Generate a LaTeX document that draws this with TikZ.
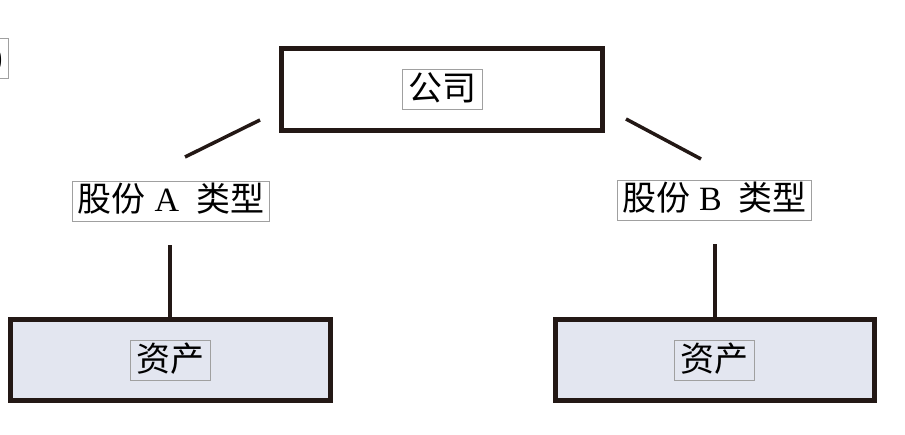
\documentclass[tikz,border=0pt]{standalone}
\usepackage{fontspec}
\usepackage{tikz}
\setmainfont{Liberation Serif}
\newfontfamily\cjk{Noto Sans CJK SC}
\definecolor{bxline}{HTML}{231815}
\definecolor{bxfill}{HTML}{E3E6F0}
\definecolor{tagline}{HTML}{A0A0A0}

\begin{document}
\begin{tikzpicture}[x=1pt, y=-1pt,
  box/.style={draw=bxline, line width=5pt, inner sep=0pt},
  tag/.style={draw=tagline, line width=0.8pt, inner xsep=6pt, inner ysep=3pt,
    text height=28pt, text depth=6pt, font=\fontsize{34}{34}\selectfont\cjk},
  link/.style={draw=bxline, line width=4pt}]
  \useasboundingbox (0,0) rectangle (905,435);
  % company on top
  \node[box, minimum width=321pt, minimum height=82pt] (co) at (442,89.5) {};
  \node[tag] (coLbl) at (co) {公司};
  \node[tag, anchor=east, font=\fontsize{34}{34}\selectfont\rmfamily] (mark) at (9,58) {(1)};
  % share types
  \node[tag, inner xsep=5pt] (typeA) at (171,201) {股份\hspace{9pt}{\rmfamily A}\hspace{17pt}类型};
  \node[tag, inner xsep=5pt] (typeB) at (714.5,200) {股份\hspace{9pt}{\rmfamily B}\hspace{17pt}类型};
  % assets
  \node[box, fill=bxfill, minimum width=320pt, minimum height=81.5pt] (assetA) at (170,360.25) {};
  \node[tag] (assetALbl) at (assetA) {资产};
  \node[box, fill=bxfill, minimum width=319pt, minimum height=81.5pt] (assetB) at (714.5,360.25) {};
  \node[tag] (assetBLbl) at (assetB) {资产};
  % links
  \coordinate (dl1) at (260,120);
  \coordinate (dl2) at (185,157);
  \coordinate (dr1) at (626,119);
  \coordinate (dr2) at (701,159);
  \draw[link, line width=3.5pt] (dl1) -- (dl2);
  \draw[link, line width=3.5pt] (dr1) -- (dr2);
  \draw[link, shorten >=24pt] (assetA.north) -- (assetA.north |- typeA.south);
  \draw[link, shorten >=24pt] (assetB.north) -- (assetB.north |- typeB.south);
\end{tikzpicture}
\end{document}
